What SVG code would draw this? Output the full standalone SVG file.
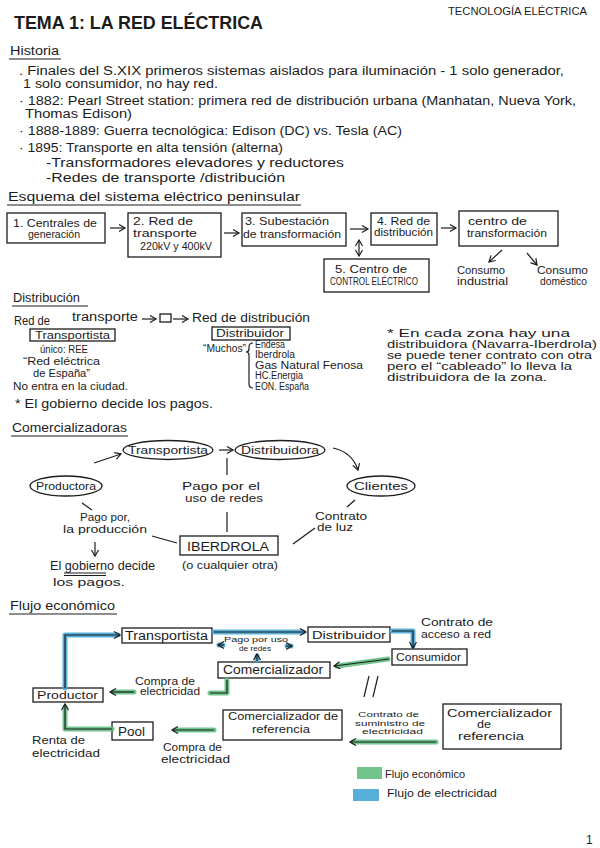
<svg xmlns="http://www.w3.org/2000/svg" width="600" height="848" viewBox="0 0 600 848">
<style>
text{font-family:"Liberation Sans","DejaVu Sans",sans-serif;fill:#1c1c1c;font-size:12px}
.h{font-size:19px;font-weight:bold}
.b{font-size:12px}
.s{font-size:10px}
.xs{font-size:8px}
.m{font-size:11px}
.bx{fill:none;stroke:#1c1c1c;stroke-width:1.3}
.ln{fill:none;stroke:#1c1c1c;stroke-width:1.2}
.ar{fill:none;stroke:#1c1c1c;stroke-width:1.2;marker-end:url(#a)}
.hg{fill:none;stroke:#62bf7f;stroke-width:5;stroke-linecap:round;stroke-linejoin:round;opacity:.9}
.hb{fill:none;stroke:#45a6d6;stroke-width:5;stroke-linecap:round;stroke-linejoin:round;opacity:.9}
.ul{stroke:#1c1c1c;stroke-width:1.1}
</style>
<defs>
<marker id="a" markerWidth="9" markerHeight="9" refX="7" refY="4" orient="auto" markerUnits="userSpaceOnUse">
<path d="M1,0.5 L7,4 L1,7.5" fill="none" stroke="#1c1c1c" stroke-width="1.2"/>
</marker>
<marker id="as" markerWidth="9" markerHeight="9" refX="1" refY="4" orient="auto" markerUnits="userSpaceOnUse">
<path d="M7,0.5 L1,4 L7,7.5" fill="none" stroke="#1c1c1c" stroke-width="1.2"/>
</marker>
</defs>
<rect width="600" height="848" fill="#ffffff"/>

<!-- Header -->
<g id="header">
<text class="h" x="14" y="29" textLength="249" lengthAdjust="spacingAndGlyphs">TEMA 1: LA RED ELÉCTRICA</text>
<text class="s" x="448" y="15" textLength="139" lengthAdjust="spacingAndGlyphs">TECNOLOGÍA ELÉCTRICA</text>
</g>

<!-- Historia -->
<g id="historia">
<text x="10" y="55" textLength="49" lengthAdjust="spacingAndGlyphs">Historia</text>
<line class="ul" x1="9" y1="59" x2="61" y2="59"/>
<text class="b" x="19" y="75" textLength="545" lengthAdjust="spacingAndGlyphs">. Finales del S.XIX primeros sistemas aislados para iluminación - 1 solo generador,</text>
<text class="b" x="23" y="88" textLength="195" lengthAdjust="spacingAndGlyphs">1 solo consumidor, no hay red.</text>
<text class="b" x="19" y="105" textLength="557" lengthAdjust="spacingAndGlyphs">· 1882: Pearl Street station: primera red de distribución urbana (Manhatan, Nueva York,</text>
<text class="b" x="25" y="118" textLength="107" lengthAdjust="spacingAndGlyphs">Thomas Edison)</text>
<text class="b" x="19" y="135" textLength="383" lengthAdjust="spacingAndGlyphs">· 1888-1889: Guerra tecnológica: Edison (DC) vs. Tesla (AC)</text>
<text class="b" x="19" y="152" textLength="264" lengthAdjust="spacingAndGlyphs">· 1895: Transporte en alta tensión (alterna)</text>
<text class="b" x="46" y="167" textLength="298" lengthAdjust="spacingAndGlyphs">-Transformadores elevadores y reductores</text>
<text class="b" x="46" y="182" textLength="239" lengthAdjust="spacingAndGlyphs">-Redes de transporte /distribución</text>
</g>

<!-- Esquema -->
<g id="esquema-title">
<text class="b" x="8" y="201" textLength="292" lengthAdjust="spacingAndGlyphs">Esquema del sistema eléctrico peninsular</text>
<line class="ul" x1="7" y1="205" x2="301" y2="205"/>
</g>
<g id="centrales">
<rect class="bx" x="7" y="213" width="98" height="30"/>
<text class="m" x="13" y="227" textLength="84" lengthAdjust="spacingAndGlyphs">1. Centrales de</text>
<text class="m" x="28" y="238" textLength="52" lengthAdjust="spacingAndGlyphs">generación</text>
</g>
<g id="red-transporte">
<rect class="bx" x="128" y="213" width="93" height="44"/>
<text class="m" x="133" y="225" textLength="60" lengthAdjust="spacingAndGlyphs">2. Red de</text>
<text class="m" x="133" y="237" textLength="64" lengthAdjust="spacingAndGlyphs">transporte</text>
<text class="s" x="140" y="250" textLength="72" lengthAdjust="spacingAndGlyphs">220kV y 400kV</text>
</g>
<g id="subestacion">
<rect class="bx" x="242" y="213" width="104" height="33"/>
<text class="m" x="245" y="225" textLength="84" lengthAdjust="spacingAndGlyphs">3. Subestación</text>
<text class="m" x="243" y="238" textLength="98" lengthAdjust="spacingAndGlyphs">de transformación</text>
</g>
<g id="red-distribucion">
<rect class="bx" x="371" y="213" width="66" height="32"/>
<text class="m" x="377" y="225" textLength="53" lengthAdjust="spacingAndGlyphs">4. Red de</text>
<text class="m" x="374" y="236" textLength="59" lengthAdjust="spacingAndGlyphs">distribución</text>
</g>
<g id="centro-transformacion">
<rect class="bx" x="459" y="211" width="99" height="35"/>
<text class="m" x="468" y="225" textLength="59" lengthAdjust="spacingAndGlyphs">centro de</text>
<text class="m" x="467" y="237" textLength="80" lengthAdjust="spacingAndGlyphs">transformación</text>
</g>
<g id="centro-control">
<rect class="bx" x="324" y="259" width="105" height="33"/>
<text class="m" x="335" y="273" textLength="72" lengthAdjust="spacingAndGlyphs">5. Centro de</text>
<text class="s" x="330" y="285" textLength="88" lengthAdjust="spacingAndGlyphs">CONTROL ELÉCTRICO</text>
</g>
<g id="consumo-industrial">
<text class="m" x="457" y="274" textLength="48" lengthAdjust="spacingAndGlyphs">Consumo</text>
<text class="m" x="457" y="285" textLength="51" lengthAdjust="spacingAndGlyphs">industrial</text>
</g>
<g id="consumo-domestico">
<text class="m" x="537" y="274" textLength="51" lengthAdjust="spacingAndGlyphs">Consumo</text>
<text class="m" x="540" y="285" textLength="47" lengthAdjust="spacingAndGlyphs">doméstico</text>
</g>
<g id="esquema-connectors">
<line class="ar" x1="110" y1="228" x2="125" y2="228"/>
<line class="ar" x1="224" y1="233" x2="239" y2="233"/>
<line class="ar" x1="350" y1="229" x2="368" y2="229"/>
<line class="ar" x1="441" y1="228" x2="456" y2="228"/>
<line class="ar" x1="359" y1="240" x2="359" y2="256" marker-start="url(#as)"/>
<line class="ar" x1="502" y1="250" x2="489" y2="262"/>
<line class="ar" x1="527" y1="253" x2="537" y2="265"/>
</g>

<!-- Distribución -->
<g id="distribucion">
<text x="13" y="302" textLength="67" lengthAdjust="spacingAndGlyphs">Distribución</text>
<line class="ul" x1="12" y1="306" x2="88" y2="306"/>
<text x="14" y="325" textLength="36" lengthAdjust="spacingAndGlyphs">Red de</text>
<text x="72" y="321" textLength="66" lengthAdjust="spacingAndGlyphs">transporte</text>
<line class="ar" x1="142" y1="319" x2="156" y2="319"/>
<rect class="bx" x="160" y="314" width="11" height="8"/>
<line class="ar" x1="173" y1="319" x2="188" y2="319"/>
<text x="192" y="322" textLength="118" lengthAdjust="spacingAndGlyphs">Red de distribución</text>
</g>
<g id="transportista-info">
<rect class="bx" x="30" y="329" width="85" height="12"/>
<text class="s" x="35" y="339" textLength="75" lengthAdjust="spacingAndGlyphs">Transportista</text>
<text class="m" x="40" y="353" textLength="48" lengthAdjust="spacingAndGlyphs">único: REE</text>
<text class="m" x="23" y="365" textLength="77" lengthAdjust="spacingAndGlyphs">“Red eléctrica</text>
<text class="m" x="33" y="377" textLength="57" lengthAdjust="spacingAndGlyphs">de España”</text>
<text class="m" x="13" y="390" textLength="115" lengthAdjust="spacingAndGlyphs">No entra en la ciudad.</text>
<text x="15" y="408" textLength="198" lengthAdjust="spacingAndGlyphs">* El gobierno decide los pagos.</text>
</g>
<g id="distribuidor-info">
<rect class="bx" x="212" y="327" width="78" height="13"/>
<text class="s" x="216" y="337" textLength="68" lengthAdjust="spacingAndGlyphs">Distribuidor</text>
<text class="s" x="203" y="352" textLength="43" lengthAdjust="spacingAndGlyphs">“Muchos”</text>
<path class="ln" d="M253,343 Q249,343 249,347 L249,349 Q249,352 246,352 Q249,352 249,355 L249,384 Q249,388 253,388"/>
<text class="s" x="255" y="348" textLength="30" lengthAdjust="spacingAndGlyphs">Endesa</text>
<text class="s" x="255" y="358" textLength="40" lengthAdjust="spacingAndGlyphs">Iberdrola</text>
<text class="s" x="255" y="369" textLength="108" lengthAdjust="spacingAndGlyphs">Gas Natural Fenosa</text>
<text class="s" x="255" y="379" textLength="48" lengthAdjust="spacingAndGlyphs">HC.Energia</text>
<text class="s" x="255" y="390" textLength="54" lengthAdjust="spacingAndGlyphs">EON. España</text>
</g>
<g id="nota-zona">
<text class="m" x="387" y="337" textLength="183" lengthAdjust="spacingAndGlyphs">* En cada zona hay una</text>
<text class="m" x="387" y="348" textLength="210" lengthAdjust="spacingAndGlyphs">distribuidora (Navarra-Iberdrola)</text>
<text class="m" x="387" y="359" textLength="205" lengthAdjust="spacingAndGlyphs">se puede tener contrato con otra</text>
<text class="m" x="387" y="370" textLength="185" lengthAdjust="spacingAndGlyphs">pero el “cableado” lo lleva la</text>
<text class="m" x="387" y="381" textLength="160" lengthAdjust="spacingAndGlyphs">distribuidora de la zona.</text>
</g>

<!-- Comercializadoras -->
<g id="comercializadoras-title">
<text x="12" y="432" textLength="115" lengthAdjust="spacingAndGlyphs">Comercializadoras</text>
<line class="ul" x1="11" y1="436" x2="128" y2="436"/>
</g>
<g id="c-transportista">
<ellipse class="bx" cx="168" cy="450" rx="45" ry="9.5"/>
<text class="m" x="128" y="454" textLength="80" lengthAdjust="spacingAndGlyphs">Transportista</text>
</g>
<g id="c-distribuidora">
<ellipse class="bx" cx="280" cy="450" rx="45" ry="9.5"/>
<text class="m" x="241" y="454" textLength="78" lengthAdjust="spacingAndGlyphs">Distribuidora</text>
</g>
<g id="c-productora">
<ellipse class="bx" cx="66" cy="486" rx="36" ry="10"/>
<text class="m" x="36" y="490" textLength="60" lengthAdjust="spacingAndGlyphs">Productora</text>
</g>
<g id="c-clientes">
<ellipse class="bx" cx="381" cy="486" rx="34" ry="10"/>
<text class="m" x="354" y="490" textLength="54" lengthAdjust="spacingAndGlyphs">Clientes</text>
</g>
<g id="c-iberdrola">
<rect class="bx" x="180" y="536" width="98" height="19"/>
<text x="187" y="551" textLength="82" lengthAdjust="spacingAndGlyphs">IBERDROLA</text>
<text class="s" x="182" y="569" textLength="96" lengthAdjust="spacingAndGlyphs">(o cualquier otra)</text>
</g>
<g id="c-labels">
<text class="m" x="182" y="490" textLength="78" lengthAdjust="spacingAndGlyphs">Pago por el</text>
<text class="m" x="185" y="502" textLength="78" lengthAdjust="spacingAndGlyphs">uso de redes</text>
<text class="m" x="80" y="521" textLength="50" lengthAdjust="spacingAndGlyphs">Pago por,</text>
<text class="m" x="63" y="533" textLength="84" lengthAdjust="spacingAndGlyphs">la producción</text>
<text class="s" x="315" y="520" textLength="52" lengthAdjust="spacingAndGlyphs">Contrato</text>
<text class="s" x="317" y="531" textLength="36" lengthAdjust="spacingAndGlyphs">de luz</text>
<text x="50" y="570" textLength="105" lengthAdjust="spacingAndGlyphs">El gobierno decide</text>
<line class="ul" x1="64" y1="573" x2="106" y2="573"/>
<line class="ul" x1="64" y1="575.5" x2="106" y2="575.5"/>
<text class="m" x="53" y="586" textLength="72" lengthAdjust="spacingAndGlyphs">los pagos.</text>
</g>
<g id="c-connectors">
<line class="ar" x1="94" y1="463" x2="121" y2="454"/>
<line class="ar" x1="219" y1="450" x2="233" y2="450"/>
<path class="ar" d="M333,448 Q352,452 358,470"/>
<line class="ln" x1="227" y1="458" x2="227" y2="475"/>
<line class="ln" x1="227" y1="512" x2="227" y2="532"/>
<line class="ln" x1="82" y1="503" x2="92" y2="510"/>
<line class="ln" x1="152" y1="536" x2="177" y2="543"/>
<line class="ln" x1="293" y1="544" x2="315" y2="528"/>
<line class="ln" x1="355" y1="500" x2="347" y2="507"/>
<line class="ar" x1="95" y1="542" x2="95" y2="556"/>
</g>

<!-- Flujo económico -->
<g id="flujo-title">
<text x="10" y="610" textLength="105" lengthAdjust="spacingAndGlyphs">Flujo económico</text>
<line class="ul" x1="9" y1="614" x2="117" y2="614"/>
</g>
<g id="f-transportista">
<rect class="bx" x="122" y="628" width="90" height="15"/>
<text x="125" y="640" textLength="83" lengthAdjust="spacingAndGlyphs">Transportista</text>
</g>
<g id="f-distribuidor">
<rect class="bx" x="308" y="627" width="82" height="15"/>
<text class="m" x="312" y="639" textLength="74" lengthAdjust="spacingAndGlyphs">Distribuidor</text>
</g>
<g id="f-consumidor">
<rect class="bx" x="392" y="649" width="75" height="16"/>
<text class="m" x="396" y="661" textLength="65" lengthAdjust="spacingAndGlyphs">Consumidor</text>
</g>
<g id="f-comercializador">
<rect class="bx" x="218" y="662" width="112" height="16"/>
<text x="223" y="674" textLength="100" lengthAdjust="spacingAndGlyphs">Comercializador</text>
</g>
<g id="f-productor">
<rect class="bx" x="33" y="688" width="70" height="14"/>
<text class="m" x="37" y="699" textLength="61" lengthAdjust="spacingAndGlyphs">Productor</text>
</g>
<g id="f-pool">
<rect class="bx" x="112" y="722" width="41" height="18"/>
<text x="118" y="736" textLength="27" lengthAdjust="spacingAndGlyphs">Pool</text>
</g>
<g id="f-comref-left">
<rect class="bx" x="223" y="710" width="119" height="30"/>
<text class="m" x="228" y="720" textLength="110" lengthAdjust="spacingAndGlyphs">Comercializador de</text>
<text class="m" x="252" y="733" textLength="58" lengthAdjust="spacingAndGlyphs">referencia</text>
</g>
<g id="f-comref-right">
<rect class="bx" x="443" y="704" width="118" height="45"/>
<text class="m" x="447" y="717" textLength="105" lengthAdjust="spacingAndGlyphs">Comercializador</text>
<text class="m" x="477" y="728" textLength="14" lengthAdjust="spacingAndGlyphs">de</text>
<text class="m" x="458" y="740" textLength="66" lengthAdjust="spacingAndGlyphs">referencia</text>
</g>
<g id="f-labels">
<text class="s" x="421" y="626" textLength="72" lengthAdjust="spacingAndGlyphs">Contrato de</text>
<text class="s" x="421" y="638" textLength="70" lengthAdjust="spacingAndGlyphs">acceso a red</text>
<text class="xs" x="224" y="642" textLength="64" lengthAdjust="spacingAndGlyphs">Pago por uso</text>
<text class="xs" x="239" y="651" textLength="32" lengthAdjust="spacingAndGlyphs">de redes</text>
<text class="s" x="135" y="685" textLength="60" lengthAdjust="spacingAndGlyphs">Compra de</text>
<text class="s" x="140" y="695" textLength="60" lengthAdjust="spacingAndGlyphs">electricidad</text>
<text class="s" x="32" y="744" textLength="53" lengthAdjust="spacingAndGlyphs">Renta de</text>
<text class="s" x="32" y="757" textLength="68" lengthAdjust="spacingAndGlyphs">electricidad</text>
<text class="s" x="163" y="751" textLength="59" lengthAdjust="spacingAndGlyphs">Compra de</text>
<text class="s" x="161" y="763" textLength="69" lengthAdjust="spacingAndGlyphs">electricidad</text>
<text class="xs" x="358" y="717" textLength="61" lengthAdjust="spacingAndGlyphs">Contrato de</text>
<text class="xs" x="355" y="725.5" textLength="70" lengthAdjust="spacingAndGlyphs">suministro de</text>
<text class="xs" x="362" y="734" textLength="61" lengthAdjust="spacingAndGlyphs">electricidad</text>
</g>
<g id="f-connectors">
<path class="hb" d="M65,688 V635 H118"/>
<path class="ar" d="M65,688 V635 H120"/>
<path class="hb" d="M214,632 H303"/>
<path class="ar" d="M214,632 H306"/>
<path class="hb" d="M392,631 H413 V646"/>
<path class="ar" d="M392,631 H413 V648"/>
<path class="hb" d="M219,645 H223"/>
<path class="ar" d="M224,645 H218"/>
<path class="hb" d="M287,646 H291"/>
<path class="ar" d="M286,646 H292"/>
<path class="hb" d="M257,660 V656"/>
<path class="ar" d="M257,661 V654"/>
<path class="hg" d="M388,659 L337,666"/>
<path class="ar" d="M389,659 L334,666"/>
<path class="hg" d="M227,680 V693 H210"/>
<path class="ln" d="M227,680 V693 H210"/>
<path class="hg" d="M134,692 H113"/>
<path class="ar" d="M134,692 H110"/>
<path class="hg" d="M112,729 H65 V707"/>
<path class="ar" d="M112,729 H65 V704"/>
<path class="hg" d="M214,730 H175"/>
<path class="ar" d="M214,730 H172"/>
<path class="hg" d="M436,742 H353"/>
<path class="ar" d="M436,742 H350"/>
<line class="ln" x1="369" y1="676" x2="364" y2="697"/>
<line class="ln" x1="378" y1="676" x2="373" y2="697"/>
</g>
<g id="legend">
<rect x="357" y="767" width="25" height="12" fill="#62bf7f" opacity=".9"/>
<text class="m" x="385" y="778" textLength="80" lengthAdjust="spacingAndGlyphs">Flujo económico</text>
<rect x="353" y="789" width="26" height="12" fill="#45a6d6" opacity=".9"/>
<text class="m" x="387" y="797" textLength="110" lengthAdjust="spacingAndGlyphs">Flujo de electricidad</text>
</g>
<text x="586" y="844" font-size="13">1</text>
</svg>
